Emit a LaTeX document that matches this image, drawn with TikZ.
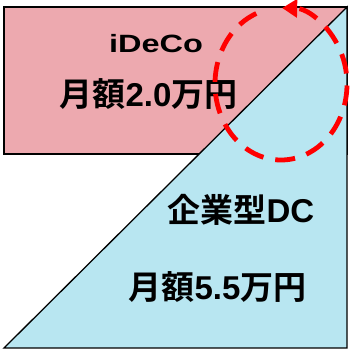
\documentclass[tikz,border=0pt]{standalone}
\usepackage{fontspec}
\newfontfamily\cjk{Noto Sans CJK JP Bold}
\newfontfamily\lat{Liberation Sans Bold}
\usetikzlibrary{arrows.meta}
\definecolor{pinkc}{RGB}{237,169,175}
\definecolor{bluec}{RGB}{184,230,241}
\begin{document}
\begin{tikzpicture}[x=1pt,y=1pt,
  box/.style={draw=black,line width=1.3pt},
  txt/.style={inner sep=0pt,anchor=base},
  circ/.style={draw=red,line width=4.8pt,dash pattern=on 20pt off 12pt,
    -{Triangle[length=15pt,width=18pt]}}]
\useasboundingbox (0,0) rectangle (349,351);
\draw[box,fill=pinkc] (4,344) rectangle (347,197);
\draw[box,fill=bluec] (4,3) -- (347,344) -- (347,3) -- cycle;
\node[txt,xscale=1.3] (ideco) at (156,298) {\lat\fontsize{25}{30}\selectfont iDeCo};
\node[txt] (m1) at (148.5,244) {\fontsize{33}{40}\selectfont\cjk 月額{\lat 2.0}万円};
\node[txt] (dc) at (241,128) {\fontsize{33}{40}\selectfont\cjk 企業型{\lat DC}};
\node[txt] (m2) at (217.5,51) {\fontsize{33}{40}\selectfont\cjk 月額{\lat 5.5}万円};
\coordinate (C) at (281,267);
\draw[circ] ([shift={(112:66pt and 76pt)}]C) arc[start angle=112,end angle=449,x radius=66pt,y radius=76pt];
\end{tikzpicture}
\end{document}
